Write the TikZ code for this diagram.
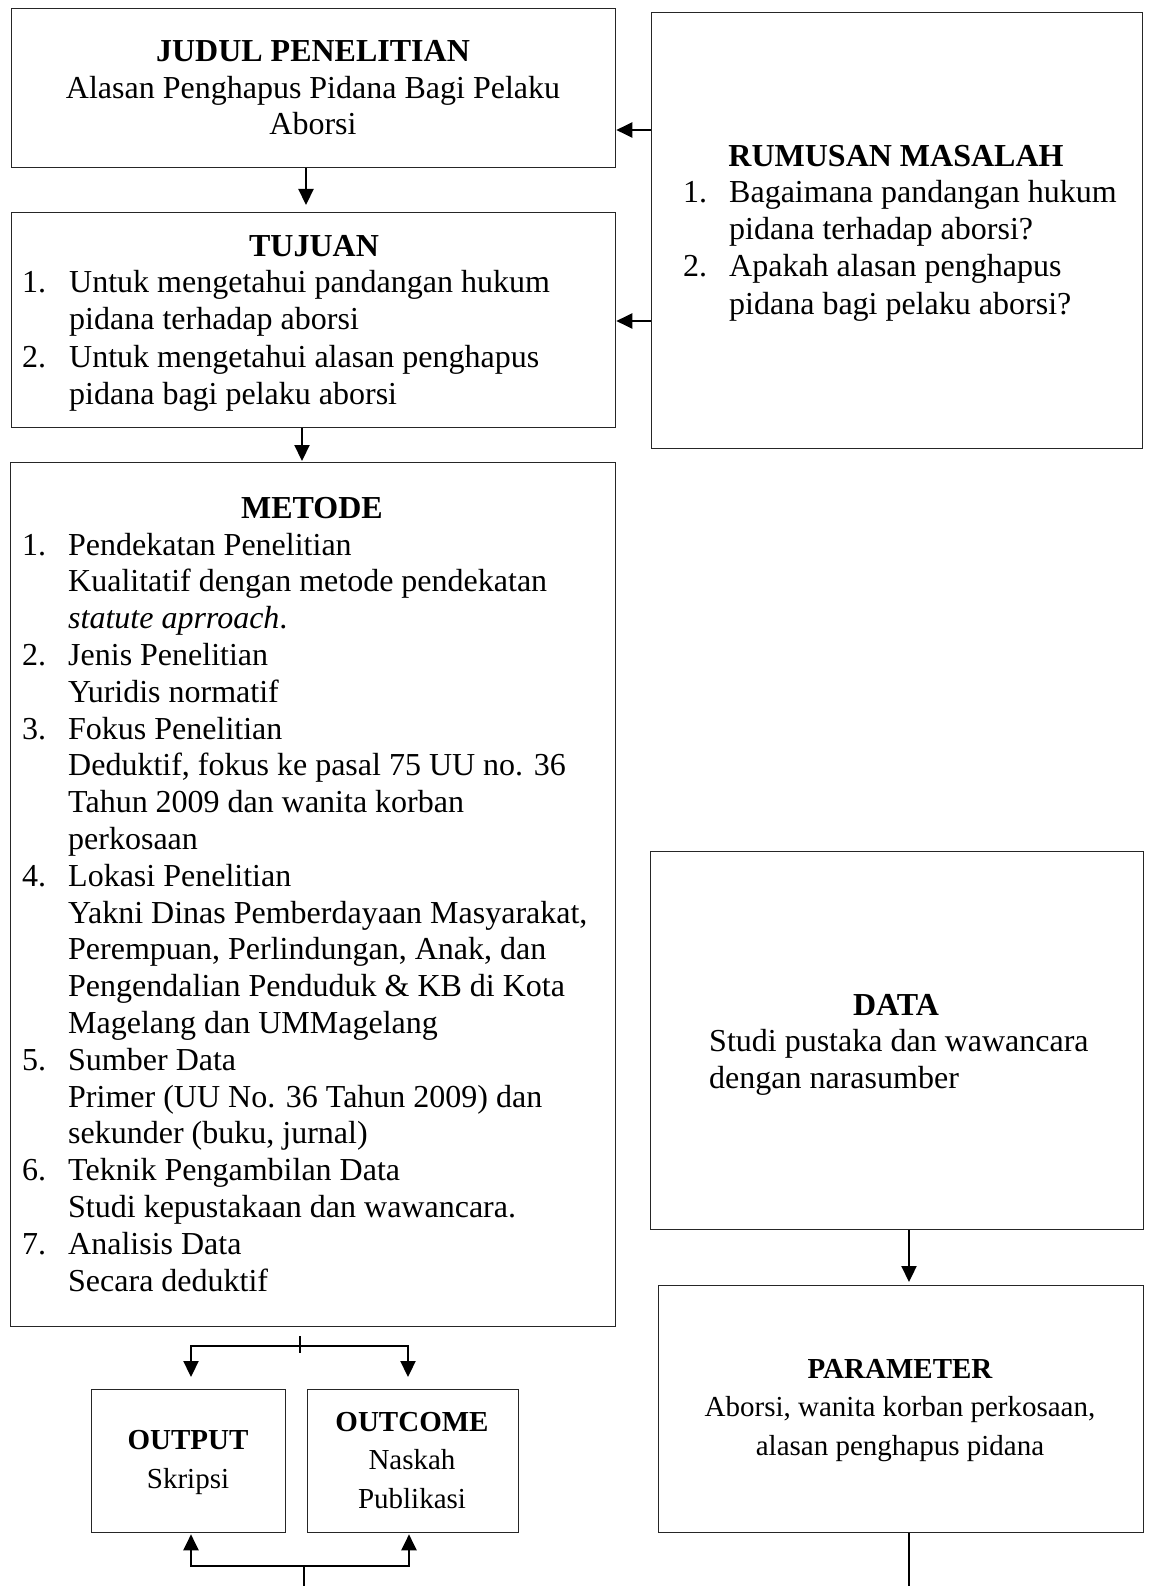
\documentclass[tikz,border=0pt]{standalone}
\usepackage{fontspec}
\setmainfont{Liberation Serif}
\usetikzlibrary{arrows.meta}
\begin{document}
\begin{tikzpicture}[x=1pt,y=-1pt,
  box/.style={draw=black!85, line width=1.3pt, inner sep=0pt, anchor=north west},
  arr/.style={line width=2.2pt, -{Triangle[length=16pt,width=15pt]}},
  plain/.style={line width=1.3pt},
  txt/.style={inner sep=0pt, anchor=base, font=\fontsize{32}{37}\selectfont},
  txtl/.style={txt, anchor=base west},
  head/.style={txt, font=\fontsize{32}{37}\selectfont\bfseries},
  stxt/.style={inner sep=0pt, anchor=base, font=\fontsize{29}{35}\selectfont},
  shead/.style={stxt, font=\fontsize{29}{35}\selectfont\bfseries}]
\useasboundingbox (0,0) rectangle (1149,1586);

% boxes
\node[box, minimum width=604pt, minimum height=159pt] (judul) at (11,8) {};
\node[box, minimum width=604pt, minimum height=215pt] (tujuan) at (11,212) {};
\node[box, minimum width=605pt, minimum height=864pt] (metode) at (10,462) {};
\node[box, minimum width=491pt, minimum height=436pt] (rumusan) at (651,12) {};
\node[box, minimum width=493pt, minimum height=378pt] (data) at (650,851) {};
\node[box, minimum width=485pt, minimum height=247pt] (parameter) at (658,1285) {};
\node[box, minimum width=194pt, minimum height=143pt] (output) at (91,1389) {};
\node[box, minimum width=211pt, minimum height=143pt] (outcome) at (307,1389) {};

% JUDUL
\node[head] (judulh) at (313,62) {JUDUL PENELITIAN};
\node[txt] (judul1) at (313,98.5) {Alasan Penghapus Pidana Bagi Pelaku};
\node[txt] (judul2) at (313,135) {Aborsi};

% TUJUAN
\node[head] (tujuanh) at (314,257) {TUJUAN};
\node[txtl] (tn1) at (22,293) {1.};
\node[txtl] (tt1) at (69,293) {Untuk mengetahui pandangan hukum};
\node[txtl] (tt2) at (69,330) {pidana terhadap aborsi};
\node[txtl] (tn2) at (22,367) {2.};
\node[txtl] (tt3) at (69,367) {Untuk mengetahui alasan penghapus};
\node[txtl] (tt4) at (69,404) {pidana bagi pelaku aborsi};

% METODE
\node[head] (metodeh) at (312,518) {METODE};
\foreach \i/\n in {0/1,3/2,5/3,9/4,14/5,17/6,19/7}
  \node[txtl] (mn\i) at (22,{555+36.8*\i}) {\n.};
\foreach \i/\t in {0/{Pendekatan Penelitian},
  1/{Kualitatif dengan metode pendekatan},
  2/{\textit{statute aprroach}.},
  3/{Jenis Penelitian},
  4/{Yuridis normatif},
  5/{Fokus Penelitian},
  6/{Deduktif, fokus ke pasal 75 UU no. 36},
  7/{Tahun 2009 dan wanita korban},
  8/{perkosaan},
  9/{Lokasi Penelitian},
  10/{Yakni Dinas Pemberdayaan Masyarakat,},
  11/{Perempuan, Perlindungan, Anak, dan},
  12/{Pengendalian Penduduk \& KB di Kota},
  13/{Magelang dan UMMagelang},
  14/{Sumber Data},
  15/{Primer (UU No. 36 Tahun 2009) dan},
  16/{sekunder (buku, jurnal)},
  17/{Teknik Pengambilan Data},
  18/{Studi kepustakaan dan wawancara.},
  19/{Analisis Data},
  20/{Secara deduktif}}
  \node[txtl] (mt\i) at (68,{555+36.8*\i}) {\t};

% RUMUSAN
\node[head] (rumusanh) at (896,167) {RUMUSAN MASALAH};
\node[txtl] (rn1) at (683,203) {1.};
\node[txtl] (rt1) at (729,203) {Bagaimana pandangan hukum};
\node[txtl] (rt2) at (729,240) {pidana terhadap aborsi?};
\node[txtl] (rn2) at (683,277) {2.};
\node[txtl] (rt3) at (729,277) {Apakah alasan penghapus};
\node[txtl] (rt4) at (729,314) {pidana bagi pelaku aborsi?};

% DATA
\node[head] (datah) at (896,1015) {DATA};
\node[txtl] (dt1) at (709,1051) {Studi pustaka dan wawancara};
\node[txtl] (dt2) at (709,1088) {dengan narasumber};

% PARAMETER
\node[shead] (paramh) at (900,1378) {PARAMETER};
\node[stxt] (param1) at (900,1416) {Aborsi, wanita korban perkosaan,};
\node[stxt] (param2) at (900,1455) {alasan penghapus pidana};

% OUTPUT / OUTCOME
\node[shead] (outputh) at (188,1449) {OUTPUT};
\node[stxt] (output1) at (188,1488) {Skripsi};
\node[shead] (outcomeh) at (412,1431) {OUTCOME};
\node[stxt] (outcome1) at (412,1469) {Naskah};
\node[stxt] (outcome2) at (412,1508) {Publikasi};

% helper coordinates
\coordinate (xa) at (306,0);
\coordinate (xb) at (302,0);
\coordinate (xt) at (300,0);
\coordinate (xp) at (909,0);
\coordinate (ya) at (0,130);
\coordinate (yb) at (0,321);
\coordinate (bl) at (191,1346);
\coordinate (br) at (408,1346);
\coordinate (bbl) at (191,1566);
\coordinate (bbr) at (409,1566);
\coordinate (bb) at (304,1566);
\coordinate (bend) at (304,1590);
\coordinate (pend) at (909,1590);

% connectors
\draw[arr, shorten >=7pt] (judul.south -| xa) -- (tujuan.north -| xa);
\draw[arr, shorten >=1pt] (tujuan.south -| xb) -- (metode.north -| xb);
\draw[arr] (rumusan.west |- ya) -- (judul.east |- ya);
\draw[arr] (rumusan.west |- yb) -- (tujuan.east |- yb);
\draw[arr, shorten >=3pt] (data.south -| xp) -- (parameter.north -| xp);
\draw[plain, shorten <=9pt] (metode.south -| xt) -- ++(0,26);
\draw[plain] (bl) -- (br);
\draw[arr, shorten >=12pt] ([yshift=0.6pt]bl) -- (output.north -| bl);
\draw[arr, shorten >=12pt] ([yshift=0.6pt]br) -- (outcome.north -| br);
\draw[plain] (bbl) -- (bbr);
\draw[arr, shorten >=1pt] ([yshift=-0.6pt]bbl) -- (output.south -| bbl);
\draw[arr, shorten >=1pt] ([yshift=-0.6pt]bbr) -- (outcome.south -| bbr);
\draw[plain] (bb) -- (bend);
\draw[plain] (parameter.south -| xp) -- (pend);
\end{tikzpicture}
\end{document}
